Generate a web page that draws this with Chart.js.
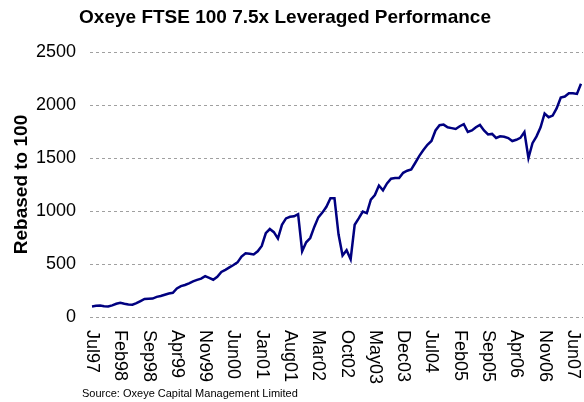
<!DOCTYPE html>
<html>
<head>
<meta charset="utf-8">
<script src="https://cdn.jsdelivr.net/npm/chart.js@4.4.0/dist/chart.umd.min.js"></script>
<style>
  body { margin: 0; background: #fff; }
</style>
</head>
<body>
<canvas id="myChart" width="584" height="402"></canvas>
<script>
// monthly points, Jul97 .. Aug07
const monthNames = ["Jan", "Feb", "Mar", "Apr", "May", "Jun", "Jul", "Aug", "Sep", "Oct", "Nov", "Dec"];
const categories = [];
for (let i = 0; i < 122; i++) {
  const m = (6 + i) % 12;
  const y = (97 + Math.floor((6 + i) / 12)) % 100;
  categories.push(monthNames[m] + String(y).padStart(2, "0"));
}

const tickLabels = ["Jul97", "Feb98", "Sep98", "Apr99", "Nov99", "Jun00", "Jan01", "Aug01", "Mar02",
  "Oct02", "May03", "Dec03", "Jul04", "Feb05", "Sep05", "Apr06", "Nov06", "Jun07"];

const performance = [
  100, 106, 108, 102, 100, 110, 125, 135, 125, 118,
  116, 130, 150, 170, 172, 174, 190, 198, 210, 222,
  228, 270, 292, 302, 318, 336, 350, 362, 385, 370,
  352, 380, 425, 445, 468, 490, 515, 570, 602, 597,
  590, 620, 670, 790, 830, 800, 740, 870, 930, 945,
  950, 970, 620, 705, 745, 850, 940, 985, 1040, 1120,
  1120, 780, 580, 630, 545, 870, 930, 995, 980, 1107,
  1150, 1240, 1195, 1260, 1305, 1311, 1311, 1360, 1380, 1392,
  1455, 1520, 1575, 1625, 1660, 1760, 1810, 1815, 1790, 1782,
  1774, 1800, 1820, 1745, 1760, 1790, 1812, 1760, 1722, 1727,
  1689, 1705, 1700, 1688, 1660, 1672, 1690, 1745, 1500, 1640,
  1704, 1790, 1920, 1885, 1900, 1970, 2070, 2080, 2110, 2110,
  2105, 2200
];

const yTicks = [0, 500, 1000, 1500, 2000, 2500];

const fontFamily = "'Liberation Sans', Arial, sans-serif";

// dashed horizontal grid, drawn under the line
const gridPlugin = {
  id: "dashGrid",
  beforeDatasetsDraw(chart) {
    const ctx = chart.ctx;
    const yScale = chart.scales.y;
    const area = chart.chartArea;
    ctx.save();
    ctx.strokeStyle = "#a0a0a0";
    ctx.lineWidth = 1;
    ctx.setLineDash([3, 3]);
    yTicks.forEach(v => {
      const py = Math.round(yScale.getPixelForValue(v)) + 0.5;
      ctx.beginPath();
      ctx.moveTo(area.left, py);
      ctx.lineTo(area.right, py);
      ctx.stroke();
    });
    ctx.restore();
  }
};

// title, x labels read top-to-bottom, and the source line
const textPlugin = {
  id: "texts",
  afterDraw(chart) {
    const ctx = chart.ctx;
    const xScale = chart.scales.x;
    const area = chart.chartArea;
    ctx.save();
    ctx.fillStyle = "#000";
    ctx.textBaseline = "middle";
    ctx.textAlign = "center";
    ctx.font = "bold 19px " + fontFamily;
    ctx.fillText("Oxeye FTSE 100 7.5x Leveraged Performance", 285, 18);

    ctx.font = "18px " + fontFamily;
    tickLabels.forEach(label => {
      const px = xScale.getPixelForValue(categories.indexOf(label));
      ctx.save();
      ctx.translate(px, area.bottom + 13);
      ctx.rotate(Math.PI / 2);
      ctx.textAlign = "left";
      ctx.fillText(label, 0, 0);
      ctx.restore();
    });

    ctx.font = "11px " + fontFamily;
    ctx.textAlign = "left";
    ctx.fillText("Source: Oxeye Capital Management Limited", 82, 394);
    ctx.restore();
  }
};

new Chart("myChart", {
  type: "line",
  data: {
    labels: categories,
    datasets: [{
      data: performance,
      borderColor: "#000080",
      borderWidth: 2.5,
      pointRadius: 0,
      tension: 0,
      fill: false
    }]
  },
  options: {
    responsive: false,
    animation: false,
    layout: {
      padding: { left: 0, right: 1, top: 52, bottom: 85 }
    },
    scales: {
      x: {
        offset: true,
        grid: { display: false, drawTicks: false, tickLength: 0 },
        border: { display: false },
        ticks: { display: false }
      },
      y: {
        min: 0,
        max: 2500,
        afterFit(scale) { scale.width = 90; },
        afterBuildTicks(scale) { scale.ticks = yTicks.map(v => ({ value: v })); },
        grid: { display: false, drawTicks: false },
        border: { display: false },
        ticks: {
          color: "#000",
          padding: 14,
          font: { family: fontFamily, size: 18 },
          callback: v => String(v)
        },
        title: {
          display: true,
          text: "Rebased to 100",
          color: "#000",
          padding: { top: 10, bottom: 0 },
          font: { family: fontFamily, size: 19, weight: "bold" }
        }
      }
    },
    plugins: {
      legend: { display: false },
      tooltip: { enabled: false },
      title: { display: false }
    }
  },
  plugins: [gridPlugin, textPlugin]
});
</script>
</body>
</html>
